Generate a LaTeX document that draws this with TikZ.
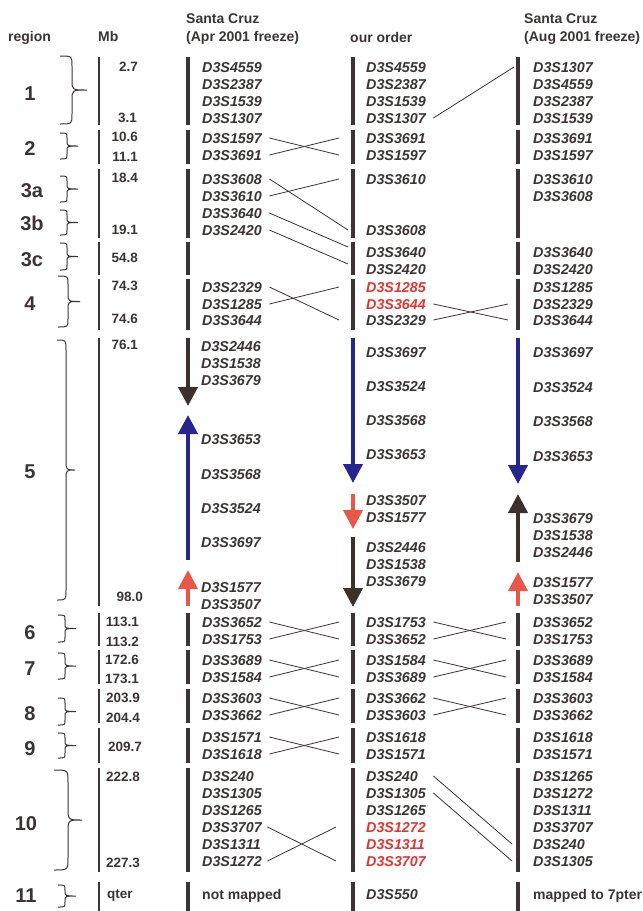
\documentclass[tikz,border=0pt]{standalone}
\usepackage{fontspec}
\setmainfont{Liberation Sans}
\usetikzlibrary{arrows.meta}

\definecolor{ink}{RGB}{60,52,52}
\definecolor{mkred}{RGB}{226,52,48}
\definecolor{arrred}{RGB}{232,88,72}
\definecolor{arrblue}{RGB}{38,38,140}
\definecolor{arrdark}{RGB}{58,48,44}

\tikzset{
  mk/.style={font=\fontsize{14.3}{14.3}\selectfont\bfseries\itshape, text=ink,
    inner sep=0pt, anchor=west, text width=62pt, text height=10.3pt, text depth=0pt},
  mkr/.style={mk, text=mkred},
  plain/.style={font=\fontsize{14}{14}\selectfont\bfseries, text=ink,
    inner sep=0pt, anchor=west, text height=10pt, text depth=0pt},
  mb/.style={font=\fontsize{13.5}{13.5}\selectfont\bfseries, text=ink,
    inner sep=0pt, anchor=east, text height=9.6pt, text depth=0pt},
  reg/.style={font=\fontsize{20}{20}\selectfont\bfseries, text=ink,
    inner sep=0pt, text height=14.3pt, text depth=0pt},
  hdr/.style={font=\fontsize{14}{14}\selectfont\bfseries, text=ink,
    inner sep=0pt, anchor=base west},
  chrom/.style={draw=ink, line width=4pt},
  mbline/.style={draw=ink, line width=1.8pt},
  swap/.style={draw=ink, line width=0.8pt},
  brc/.style={draw=ink, line width=1pt},
  seg/.style={line width=4pt, -{Triangle[width=19pt,length=19pt]}},
}

% curly brace: end x, top, bottom, arm x, tip x, hook radius
\newcommand\regbrace[6]{%
  \draw[brc] (#1,#2) .. controls (#4,#2) .. (#4,#2+#6)
    -- (#4,{(#2+#3)/2-#6}) .. controls (#4,{(#2+#3)/2}) .. (#5,{(#2+#3)/2})
    .. controls (#4,{(#2+#3)/2}) .. (#4,{(#2+#3)/2+#6})
    -- (#4,#3-#6) .. controls (#4,#3) .. (#1,#3);}

\begin{document}
\begin{tikzpicture}[x=1pt,y=-1pt]
\fill[white] (0,0) rectangle (643,911);
\useasboundingbox (0,0) rectangle (643,911);

% column headings
\node[hdr] (hreg) at (8,41) {region};
\node[hdr] (hmb) at (98,41) {Mb};
\node[hdr] (hsca) at (186,23) {Santa Cruz};
\node[hdr] (hapr) at (186,41) {(Apr 2001 freeze)};
\node[hdr] (hour) at (350,42) {our order};
\node[hdr] (hscb) at (524,23) {Santa Cruz};
\node[hdr] (haug) at (524,41) {(Aug 2001 freeze)};

% region numbers and braces
\node[reg] (g1) at (30,93) {1};
\node[reg] (g2) at (30,148) {2};
\node[reg] (g3a) at (32,190) {3a};
\node[reg] (g3b) at (32,223) {3b};
\node[reg] (g3c) at (32,259) {3c};
\node[reg] (g4) at (30,303) {4};
\node[reg] (g5) at (30,471) {5};
\node[reg] (g6) at (30,632) {6};
\node[reg] (g7) at (30,668) {7};
\node[reg] (g8) at (30,713) {8};
\node[reg] (g9) at (30,748) {9};
\node[reg] (g10) at (26,823) {10};
\node[reg] (g11) at (26,895) {11};

\regbrace{60}{56}{124}{72}{87}{10}
\regbrace{60}{133}{159}{67}{78}{5}
\regbrace{60}{176}{202}{67}{78}{5}
\regbrace{60}{210}{235}{67}{78}{5}
\regbrace{60}{243}{270}{67}{78}{5}
\regbrace{58}{276}{327}{68}{80}{8}
\regbrace{57}{340}{600}{66}{75}{10}
\regbrace{58}{615}{642}{65}{76}{5}
\regbrace{58}{653}{679}{65}{76}{5}
\regbrace{58}{698}{725}{65}{76}{5}
\regbrace{58}{733}{758}{65}{76}{5}
\regbrace{54}{770}{870}{68}{82}{12}
\regbrace{58}{885}{907}{65}{76}{5}

% Mb scale and the three chromosome columns
\foreach \t/\b in {57/125,130/164,169/238,242/275,279/330,613/646,650/684,689/723,728/763,768/872,882/911}{
  \draw[mbline] (99,\t) -- (99,\b);
  \draw[chrom] (188,\t) -- (188,\b);
  \draw[chrom] (353,\t) -- (353,\b);
  \draw[chrom] (518,\t) -- (518,\b);
}
\draw[mbline] (99,338) -- (99,606);

% Mb positions
\node[mb] (m1a) at (138,67) {2.7};
\node[mb] (m1b) at (137,118) {3.1};
\node[mb] (m2a) at (138,137) {10.6};
\node[mb] (m2b) at (138,157) {11.1};
\node[mb] (m3a) at (138,178) {18.4};
\node[mb] (m3b) at (138,230) {19.1};
\node[mb] (m3c) at (138,258) {54.8};
\node[mb] (m4a) at (138,286) {74.3};
\node[mb] (m4b) at (138,319) {74.6};
\node[mb] (m5a) at (138,345) {76.1};
\node[mb] (m5b) at (143,597) {98.0};
\node[mb] (m6a) at (139,622) {113.1};
\node[mb] (m6b) at (139,642) {113.2};
\node[mb] (m7a) at (139,660) {172.6};
\node[mb] (m7b) at (139,679) {173.1};
\node[mb] (m8a) at (140,698) {203.9};
\node[mb] (m8b) at (140,718) {204.4};
\node[mb] (m9) at (142,747) {209.7};
\node[mb] (m10a) at (140,777) {222.8};
\node[mb] (m10b) at (140,863) {227.3};
\node[mb, anchor=west] (m11) at (107,894) {qter};

% region 5 segments
\draw[seg, arrdark] (188,338) -- (188,406);
\draw[seg, arrblue] (188,560) -- (188,415);
\draw[seg, arrred] (188,606) -- (188,570);
\draw[seg, arrblue] (353,338) -- (353,483);
\draw[seg, arrred] (353,494) -- (353,529);
\draw[seg, arrdark] (353,537) -- (353,607);
\draw[seg, arrblue] (518,338) -- (518,484);
\draw[seg, arrdark] (518,562) -- (518,494);
\draw[seg, arrred] (518,606) -- (518,572);

% ---- Santa Cruz, Apr 2001
\node[mk] (L4559) at (202,67) {D3S4559};
\node[mk] (L2387) at (202,84) {D3S2387};
\node[mk] (L1539) at (202,101) {D3S1539};
\node[mk] (L1307) at (202,118) {D3S1307};
\node[mk] (L1597) at (202,138) {D3S1597};
\node[mk] (L3691) at (202,155) {D3S3691};
\node[mk] (L3608) at (202,179) {D3S3608};
\node[mk] (L3610) at (202,196) {D3S3610};
\node[mk] (L3640) at (202,213) {D3S3640};
\node[mk] (L2420) at (202,230) {D3S2420};
\node[mk] (L2329) at (202,287) {D3S2329};
\node[mk] (L1285) at (202,304) {D3S1285};
\node[mk] (L3644) at (202,320) {D3S3644};
\node[mk] (L2446) at (201,346) {D3S2446};
\node[mk] (L1538) at (201,363) {D3S1538};
\node[mk] (L3679) at (201,380) {D3S3679};
\node[mk] (L3653) at (201,439) {D3S3653};
\node[mk] (L3568) at (201,474) {D3S3568};
\node[mk] (L3524) at (201,508) {D3S3524};
\node[mk] (L3697) at (201,542) {D3S3697};
\node[mk] (L1577) at (201,587) {D3S1577};
\node[mk] (L3507) at (201,604) {D3S3507};
\node[mk] (L3652) at (202,622) {D3S3652};
\node[mk] (L1753) at (202,639) {D3S1753};
\node[mk] (L3689) at (202,660) {D3S3689};
\node[mk] (L1584) at (202,677) {D3S1584};
\node[mk] (L3603) at (202,698) {D3S3603};
\node[mk] (L3662) at (202,715) {D3S3662};
\node[mk] (L1571) at (202,737) {D3S1571};
\node[mk] (L1618) at (202,754) {D3S1618};
\node[mk] (L240) at (202,776) {D3S240};
\node[mk] (L1305) at (202,793) {D3S1305};
\node[mk] (L1265) at (202,810) {D3S1265};
\node[mk] (L3707) at (202,827) {D3S3707};
\node[mk] (L1311) at (202,844) {D3S1311};
\node[mk] (L1272) at (202,861) {D3S1272};
\node[plain] (Lnm) at (202,894) {not mapped};

% ---- our order
\node[mk] (M4559) at (366,67) {D3S4559};
\node[mk] (M2387) at (366,84) {D3S2387};
\node[mk] (M1539) at (366,101) {D3S1539};
\node[mk] (M1307) at (366,118) {D3S1307};
\node[mk] (M3691) at (366,138) {D3S3691};
\node[mk] (M1597) at (366,155) {D3S1597};
\node[mk] (M3610) at (366,179) {D3S3610};
\node[mk] (M3608) at (366,230) {D3S3608};
\node[mk] (M3640) at (366,252) {D3S3640};
\node[mk] (M2420) at (366,269) {D3S2420};
\node[mkr] (M1285) at (366,287) {D3S1285};
\node[mkr] (M3644) at (366,304) {D3S3644};
\node[mk] (M2329) at (366,320) {D3S2329};
\node[mk] (M3697) at (366,352) {D3S3697};
\node[mk] (M3524) at (366,386) {D3S3524};
\node[mk] (M3568) at (366,420) {D3S3568};
\node[mk] (M3653) at (366,454) {D3S3653};
\node[mk] (M3507) at (366,500) {D3S3507};
\node[mk] (M1577) at (366,517) {D3S1577};
\node[mk] (M2446) at (366,547) {D3S2446};
\node[mk] (M1538) at (366,564) {D3S1538};
\node[mk] (M3679) at (366,581) {D3S3679};
\node[mk] (M1753) at (366,622) {D3S1753};
\node[mk] (M3652) at (366,639) {D3S3652};
\node[mk] (M1584) at (366,660) {D3S1584};
\node[mk] (M3689) at (366,677) {D3S3689};
\node[mk] (M3662) at (366,698) {D3S3662};
\node[mk] (M3603) at (366,715) {D3S3603};
\node[mk] (M1618) at (366,737) {D3S1618};
\node[mk] (M1571) at (366,754) {D3S1571};
\node[mk] (M240) at (366,776) {D3S240};
\node[mk] (M1305) at (366,793) {D3S1305};
\node[mk] (M1265) at (366,810) {D3S1265};
\node[mkr] (M1272) at (366,827) {D3S1272};
\node[mkr] (M1311) at (366,844) {D3S1311};
\node[mkr] (M3707) at (366,861) {D3S3707};
\node[mk] (M550) at (366,894) {D3S550};

% ---- Santa Cruz, Aug 2001
\node[mk] (R1307) at (533,67) {D3S1307};
\node[mk] (R4559) at (533,84) {D3S4559};
\node[mk] (R2387) at (533,101) {D3S2387};
\node[mk] (R1539) at (533,118) {D3S1539};
\node[mk] (R3691) at (533,138) {D3S3691};
\node[mk] (R1597) at (533,155) {D3S1597};
\node[mk] (R3610) at (533,179) {D3S3610};
\node[mk] (R3608) at (533,196) {D3S3608};
\node[mk] (R3640) at (533,252) {D3S3640};
\node[mk] (R2420) at (533,269) {D3S2420};
\node[mk] (R1285) at (533,287) {D3S1285};
\node[mk] (R2329) at (533,304) {D3S2329};
\node[mk] (R3644) at (533,320) {D3S3644};
\node[mk] (R3697) at (533,352) {D3S3697};
\node[mk] (R3524) at (533,387) {D3S3524};
\node[mk] (R3568) at (533,421) {D3S3568};
\node[mk] (R3653) at (533,456) {D3S3653};
\node[mk] (R3679) at (533,518) {D3S3679};
\node[mk] (R1538) at (533,535) {D3S1538};
\node[mk] (R2446) at (533,552) {D3S2446};
\node[mk] (R1577) at (533,582) {D3S1577};
\node[mk] (R3507) at (533,599) {D3S3507};
\node[mk] (R3652) at (533,622) {D3S3652};
\node[mk] (R1753) at (533,639) {D3S1753};
\node[mk] (R3689) at (533,660) {D3S3689};
\node[mk] (R1584) at (533,677) {D3S1584};
\node[mk] (R3603) at (533,698) {D3S3603};
\node[mk] (R3662) at (533,715) {D3S3662};
\node[mk] (R1618) at (533,737) {D3S1618};
\node[mk] (R1571) at (533,754) {D3S1571};
\node[mk] (R1265) at (533,776) {D3S1265};
\node[mk] (R1272) at (533,793) {D3S1272};
\node[mk] (R1311) at (533,810) {D3S1311};
\node[mk] (R3707) at (533,827) {D3S3707};
\node[mk] (R240) at (533,844) {D3S240};
\node[mk] (R1305) at (533,861) {D3S1305};
\node[plain] (R7p) at (533,894) {mapped to 7pter};

% ---- lines joining the same marker in neighbouring columns
\draw[swap] ([xshift=5pt]M1307.east) -- ([xshift=-19pt]R1307.west);

\draw[swap] ([xshift=5pt]L1597.east) -- ([xshift=-27pt]M1597.west);
\draw[swap] ([xshift=5pt]L3691.east) -- ([xshift=-27pt]M3691.west);

\draw[swap] ([xshift=5pt]L3608.east) -- ([xshift=-18pt]M3608.west);
\draw[swap] ([xshift=5pt]L3610.east) -- ([xshift=-27pt]M3610.west);
\draw[swap] ([xshift=5pt]L3640.east) -- ([shift={(-18pt,5pt)}]M3640.west);
\draw[swap] ([xshift=5pt]L2420.east) -- ([shift={(-18pt,5pt)}]M2420.west);

\draw[swap] ([xshift=5pt]L2329.east) -- ([xshift=-27pt]M2329.west);
\draw[swap] ([xshift=5pt]L1285.east) -- ([xshift=-27pt]M1285.west);
\draw[swap] ([xshift=5pt]M3644.east) -- ([xshift=-25pt]R3644.west);
\draw[swap] ([xshift=5pt]M2329.east) -- ([xshift=-25pt]R2329.west);

\draw[swap] ([xshift=5pt]L3652.east) -- ([xshift=-27pt]M3652.west);
\draw[swap] ([xshift=5pt]L1753.east) -- ([xshift=-27pt]M1753.west);
\draw[swap] ([xshift=5pt]M1753.east) -- ([xshift=-27pt]R1753.west);
\draw[swap] ([xshift=5pt]M3652.east) -- ([xshift=-27pt]R3652.west);

\draw[swap] ([xshift=5pt]L3689.east) -- ([xshift=-27pt]M3689.west);
\draw[swap] ([xshift=5pt]L1584.east) -- ([xshift=-27pt]M1584.west);
\draw[swap] ([xshift=5pt]M1584.east) -- ([xshift=-27pt]R1584.west);
\draw[swap] ([xshift=5pt]M3689.east) -- ([xshift=-27pt]R3689.west);

\draw[swap] ([xshift=5pt]L3603.east) -- ([xshift=-27pt]M3603.west);
\draw[swap] ([xshift=5pt]L3662.east) -- ([xshift=-27pt]M3662.west);
\draw[swap] ([xshift=5pt]M3662.east) -- ([xshift=-27pt]R3662.west);
\draw[swap] ([xshift=5pt]M3603.east) -- ([xshift=-27pt]R3603.west);

\draw[swap] ([xshift=5pt]L1571.east) -- ([xshift=-27pt]M1571.west);
\draw[swap] ([xshift=5pt]L1618.east) -- ([xshift=-27pt]M1618.west);

\draw[swap] ([xshift=3pt]L3707.east) -- ([xshift=-30pt]M3707.west);
\draw[swap] ([xshift=3pt]L1272.east) -- ([xshift=-30pt]M1272.west);
\draw[swap] ([xshift=5pt]M240.east) -- ([xshift=-21pt]R240.west);
\draw[swap] ([xshift=5pt]M1305.east) -- ([xshift=-21pt]R1305.west);
\end{tikzpicture}
\end{document}
